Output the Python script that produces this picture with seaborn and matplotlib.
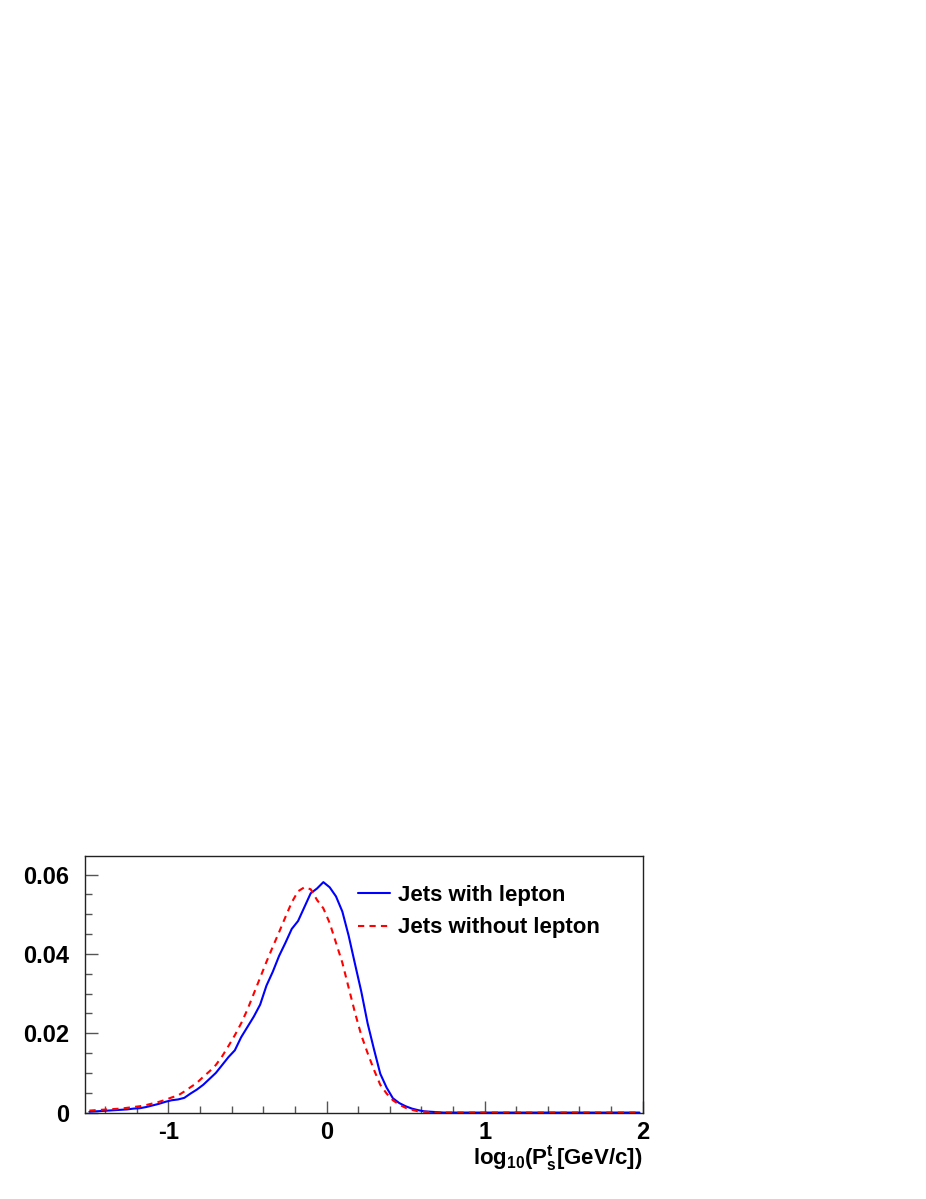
import numpy as np
import pandas as pd
import matplotlib
matplotlib.use("Agg")
import matplotlib.pyplot as plt
import seaborn as sns
from matplotlib.ticker import MultipleLocator

# bin centres (width 0.04) from -1.50 to 1.98
x_centres = np.round(np.arange(-1.50, 1.99, 0.04), 2)

with_lepton = [
    0.0002, 0.0003, 0.0004, 0.0005, 0.0006, 0.0007, 0.0008, 0.0010, 0.0011, 0.0014,
    0.0018, 0.0022, 0.0027, 0.0031, 0.0033, 0.0037, 0.0048, 0.0058, 0.0070, 0.0085,
    0.0100, 0.0120, 0.0140, 0.0157, 0.0190, 0.0216, 0.0242, 0.0272, 0.0320, 0.0355,
    0.0395, 0.0428, 0.0463, 0.0483, 0.0518, 0.0553, 0.0565, 0.0581, 0.0568, 0.0545,
    0.0507, 0.0446, 0.0375, 0.0305, 0.0225, 0.0160, 0.0098, 0.0063, 0.0036, 0.0024,
    0.0016, 0.0010, 0.0006, 0.0003, 0.0002, 0.0001,
]
without_lepton = [
    0.0005, 0.0006, 0.0007, 0.0008, 0.0009, 0.0010, 0.0012, 0.0014, 0.0016, 0.0019,
    0.0023, 0.0027, 0.0032, 0.0038, 0.0043, 0.0053, 0.0064, 0.0075, 0.0090, 0.0104,
    0.0120, 0.0142, 0.0168, 0.0195, 0.0225, 0.0260, 0.0300, 0.0340, 0.0380, 0.0418,
    0.0455, 0.0493, 0.0530, 0.0558, 0.0568, 0.0563, 0.0536, 0.0515, 0.0478, 0.0428,
    0.0378, 0.0315, 0.0252, 0.0195, 0.0150, 0.0108, 0.0070, 0.0048, 0.0031, 0.0020,
    0.0012, 0.0007, 0.0003, 0.0002, 0.0001, 0.0000,
]
n = len(x_centres)
with_lepton = with_lepton + [0.0] * (n - len(with_lepton))
without_lepton = without_lepton + [0.0] * (n - len(without_lepton))

labels = ["Jets with lepton", "Jets without lepton"]
x_ticks = [-1, 0, 1, 2]
y_ticks = [0, 0.02, 0.04, 0.06]
y_ticklabels = ["0", "0.02", "0.04", "0.06"]

df = pd.DataFrame({
    "x": np.concatenate([x_centres, x_centres]),
    "y": np.concatenate([with_lepton, without_lepton]),
    "series": [labels[0]] * n + [labels[1]] * n,
})

sns.set_theme(style="ticks")
plt.rcParams["font.family"] = ["Liberation Sans", "DejaVu Sans"]
plt.rcParams["font.weight"] = "bold"
plt.rcParams["text.color"] = "black"
plt.rcParams["axes.labelcolor"] = "black"
plt.rcParams["xtick.labelcolor"] = "black"
plt.rcParams["ytick.labelcolor"] = "black"
plt.rcParams["mathtext.fontset"] = "custom"
plt.rcParams["mathtext.rm"] = "Liberation Sans:bold"
plt.rcParams["mathtext.bf"] = "Liberation Sans:bold"
plt.rcParams["mathtext.it"] = "Liberation Sans:bold"

fig = plt.figure(figsize=(9.26, 11.99), dpi=100)
ax = fig.add_axes([0.0923, 0.0721, 0.6017, 0.2140])

sns.lineplot(data=df, x="x", y="y", hue="series", style="series",
             palette={labels[0]: "#0000ff", labels[1]: "#ff0000"},
             dashes={labels[0]: "", labels[1]: (3, 2.5)},
             linewidth=1.5, ax=ax, legend=True)

ax.set_xlim(-1.525, 2.0)
ax.set_ylim(0, 0.0647)
ax.set_xticks(x_ticks)
ax.set_xticklabels([str(t) for t in x_ticks])
ax.set_yticks(y_ticks)
ax.set_yticklabels(y_ticklabels)
ax.xaxis.set_minor_locator(MultipleLocator(0.2))
ax.yaxis.set_minor_locator(MultipleLocator(0.005))
ax.tick_params(axis="both", which="major", direction="in", length=9, width=1,
               labelsize=17, color="#555555")
ax.tick_params(axis="both", which="minor", direction="in", length=5, width=1,
               color="#555555")
ax.tick_params(axis="y", which="both", pad=12)
ax.tick_params(axis="x", which="both", pad=6)
ax.tick_params(top=False, right=False, which="both")
for lab in ax.get_xticklabels() + ax.get_yticklabels():
    lab.set_fontweight("bold")
    lab.set_color("black")
for sp in ax.spines.values():
    sp.set_visible(True)
    sp.set_color("#222222")
    sp.set_linewidth(1.0)

ax.set_xlabel(r"log$_{10}$(P$_{s}^{t}$[GeV/c])", fontsize=16, fontweight="bold",
              ha="right", va="top", color="black")
ax.xaxis.set_label_coords(1.0, -0.118)
ax.set_ylabel("")

leg = ax.legend(loc="upper left", bbox_to_anchor=(0.489, 0.886), frameon=False,
                fontsize=16, handlelength=1.45, handletextpad=0.36,
                labelspacing=0.5, borderpad=0.0, borderaxespad=0.0)
for t in leg.get_texts():
    t.set_fontweight("bold")
    t.set_color("black")

fig.savefig("out.png", dpi=100)
